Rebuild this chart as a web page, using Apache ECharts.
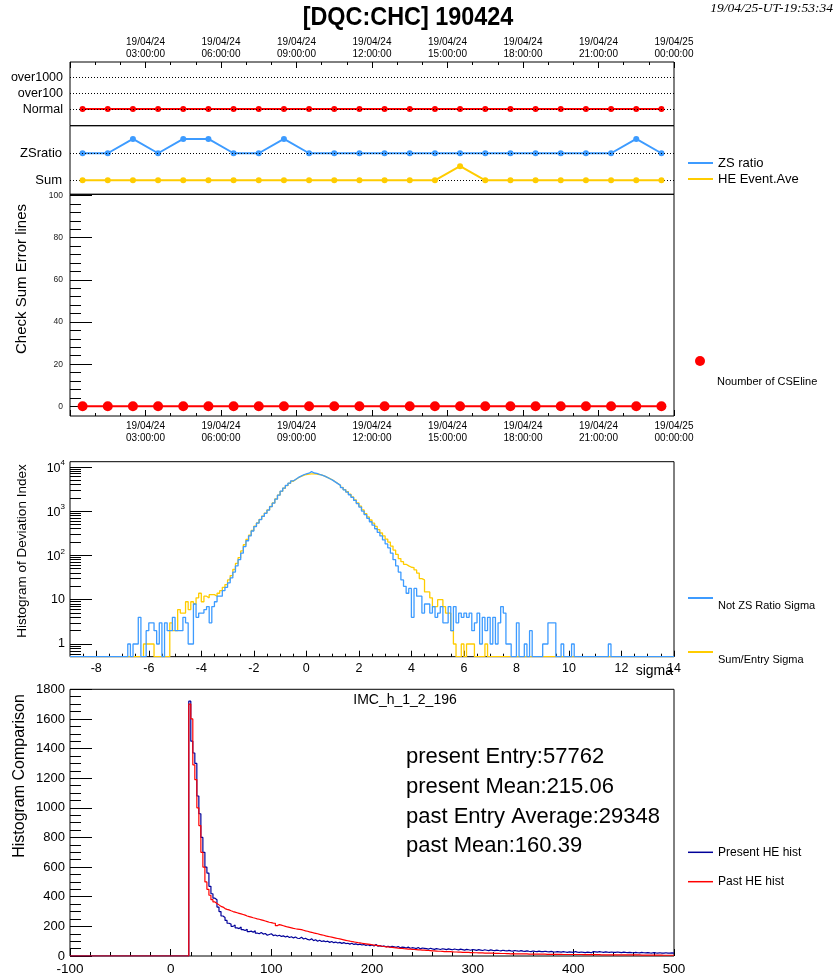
<!DOCTYPE html>
<html>
<head>
<meta charset="utf-8">
<script src="https://cdn.jsdelivr.net/npm/echarts@6/dist/echarts.min.js"></script>
<style>
  html, body { margin: 0; padding: 0; background: #fff; }
  #chart { width: 835px; height: 976px; }
</style>
</head>
<body>
<div id="chart"></div>
<script>
// ---------- hourly trend panels (run day 19/04/24) ----------
const timeHours = [0.5, 1.5, 2.5, 3.5, 4.5, 5.5, 6.5, 7.5, 8.5, 9.5, 10.5, 11.5,
                   12.5, 13.5, 14.5, 15.5, 16.5, 17.5, 18.5, 19.5, 20.5, 21.5, 22.5, 23.5];
const timeTickHours = [3, 6, 9, 12, 15, 18, 21, 24];
const timeTickLabels = ['19/04/24\n03:00:00', '19/04/24\n06:00:00', '19/04/24\n09:00:00',
                        '19/04/24\n12:00:00', '19/04/24\n15:00:00', '19/04/24\n18:00:00',
                        '19/04/24\n21:00:00', '19/04/25\n00:00:00'];

// status levels: 0 = Normal, 1 = over100, 2 = over1000
const statusNames = ['Normal', 'over100', 'over1000'];
const statusLevel = [0, 0, 0, 0, 0, 0, 0, 0, 0, 0, 0, 0, 0, 0, 0, 0, 0, 0, 0, 0, 0, 0, 0, 0];

// ratio panel: 0 = Sum baseline, 1 = ZSratio baseline
const ratioNames = ['Sum', 'ZSratio'];
const zsRatio = [1, 1, 1.53, 1, 1.53, 1.53, 1, 1, 1.53, 1, 1, 1, 1, 1, 1, 1, 1, 1, 1, 1, 1, 1, 1.53, 1];
const heEventAve = [0, 0, 0, 0, 0, 0, 0, 0, 0, 0, 0, 0, 0, 0, 0, 0.52, 0, 0, 0, 0, 0, 0, 0, 0];

// check sum error lines per hour
const cseLines = [0, 0, 0, 0, 0, 0, 0, 0, 0, 0, 0, 0, 0, 0, 0, 0, 0, 0, 0, 0, 0, 0, 0, 0];
const cseMajor = [0, 20, 40, 60, 80, 100];
const cseMinor = [4, 8, 12, 16, 24, 28, 32, 36, 44, 48, 52, 56, 64, 68, 72, 76, 84, 88, 92, 96];

// ---------- deviation index histograms: 0.1 sigma bins from -9 ----------
const devLow = -9;
const devWidth = 0.1;
const notZsSigma = [
  0,0,0,0,0,0,0,0,0,0,
  0,0,0,0,0,0,0,0,0,0,
  0,0,1,0,1,1,4,0,0,2,
  3,3,2,1,3,0,3,2,2,4,
  2,2,2,4,3,1,1,8,4,5,
  5,6,7,3,7,9,12,12,16,19,
  24,31,42,58,80,112,158,214,275,355,
  447,537,645,760,890,1050,1260,1510,1860,2290,
  2820,3310,3800,4270,4790,5250,5750,6170,6610,6920,
  7160,7760,7240,7080,6760,6460,6170,5750,5370,5010,
  4570,4170,3800,3390,3020,2690,2340,2040,1740,1480,
  1230,1000,830,690,575,480,400,330,275,224,
  182,148,112,80,58,42,28,20,14,18,
  4,18,12,12,5,8,8,5,7,4,
  5,7,3,3,7,2,7,3,5,4,
  5,4,5,2,3,5,1,4,2,4,
  1,4,1,3,7,5,1,1,0,0,
  3,0,0,1,0,2,0,0,0,0,
  1,1,3,3,3,0,0,1,0,0,
  0,1,0,0,0,0,0,0,0,0,
  0,0,0,0,0,1,0,0,0,0,
  0,0,0,0,0,0,0,0,0,0,
  0,0,0,0,0,0,0,0,0,0
];
const sumEntrySigma = [
  0,0,0,0,0,0,0,0,0,0,
  0,0,0,0,0,0,0,0,0,0,
  0,0,0,0,0,0,0,0,1,1,
  1,1,0,0,0,0,0,0,3,2,
  2,6,5,5,9,6,9,8,11,14,
  9,12,11,13,13,12,14,16,19,22,
  28,35,48,66,89,126,174,229,285,365,
  455,540,650,770,900,1060,1270,1530,1880,2300,
  2800,3280,3760,4230,4720,5180,5650,6050,6400,6700,
  6850,6950,6950,6880,6700,6450,6150,5780,5400,5030,
  4600,4200,3830,3430,3060,2730,2400,2090,1800,1540,
  1300,1060,880,740,630,535,450,380,320,275,
  234,200,162,132,105,85,72,63,58,54,
  53,47,40,30,28,15,15,11,7,7,
  10,10,7,5,5,2,1,0,0,1,
  0,1,1,1,0,0,0,0,1,0,
  0,0,0,0,0,0,0,0,0,0,
  0,0,0,0,0,0,0,0,0,0,
  0,0,0,0,0,0,0,0,0,0,
  0,0,0,0,0,0,0,0,0,0,
  0,0,0,0,0,0,0,0,0,0,
  0,0,0,0,0,0,0,0,0,0,
  0,0,0,0,0,0,0,0,0,0
];
const devMajorTicks = [-8, -6, -4, -2, 0, 2, 4, 6, 8, 10, 12, 14];
const devMinorTicks = [-8.5, -7.5, -7, -6.5, -5.5, -5, -4.5, -3.5, -3, -2.5, -1.5, -1, -0.5,
                       0.5, 1, 1.5, 2.5, 3, 3.5, 4.5, 5, 5.5, 6.5, 7, 7.5, 8.5, 9, 9.5,
                       10.5, 11, 11.5, 12.5, 13, 13.5];
const logMajor = [1, 10, 100, 1000, 10000];
const logMinor = [0.6, 0.7, 0.8, 0.9, 2, 3, 4, 5, 6, 7, 8, 9, 20, 30, 40, 50, 60, 70, 80, 90,
                  200, 300, 400, 500, 600, 700, 800, 900, 2000, 3000, 4000, 5000, 6000, 7000, 8000, 9000];
const devYMin = 0.517;
const devYMax = 13030;

// ---------- HE hit histograms: 2-unit bins from -100 ----------
const heLow = -100;
const heWidth = 2;
const presentHE = [
  0,0,0,0,0,0,0,0,0,0, 0,0,0,0,0,0,0,0,0,0, 0,0,0,0,0,0,0,0,0,0,
  0,0,0,0,0,0,0,0,0,0, 0,0,0,0,0,0,0,0,0,0, 0,0,0,0,0,0,0,0,0,
  1720,1450,1370,1300,1080,960,800,700,600,560,
  470,420,390,380,330,300,270,260,240,221,
  215,200,210,190,185,195,178,172,180,165,
  168,160,170,155,150,158,148,152,140,145,
  150,138,142,135,140,132,136,128,134,125,
  130,122,128,120,118,126,115,120,112,108,
  116,104,110,100,106,98,102,96,100,92,
  98,90,94,88,92,85,90,84,86,80,
  86,78,82,76,80,74,78,72,76,70,
  74,68,78,66,70,64,68,62,66,60,
  65,62,58,64,56,60,58,54,60,52,
  56,54,50,58,48,54,52,50,46,52,
  48,45,50,47,44,49,46,43,48,45,
  42,47,44,41,46,43,40,45,42,39,
  44,41,38,43,40,37,42,39,36,41,
  38,36,40,37,35,39,36,34,38,35,
  33,37,34,32,36,33,31,35,32,30,
  34,31,30,33,30,29,32,29,28,31,
  28,27,30,28,26,29,27,25,28,26,
  24,30,26,24,27,25,23,26,24,22,
  30,28,26,29,27,25,28,26,25,27,
  25,24,27,25,23,26,24,23,25,23,
  22,24,22,21,24,22,21,23,21,20,
  23,21,20,22,20,19,22,20,19,21,
  20
];
const pastHE = [
  0,0,0,0,0,0,0,0,0,0, 0,0,0,0,0,0,0,0,0,0, 0,0,0,0,0,0,0,0,0,0,
  0,0,0,0,0,0,0,0,0,0, 0,0,0,0,0,0,0,0,0,0, 0,0,0,0,0,0,0,0,0,
  1700,1600,1290,1190,1000,880,700,600,500,450,
  410,380,365,355,345,335,330,320,315,311,
  305,300,296,292,288,284,280,276,270,266,
  262,258,255,251,248,244,240,236,232,228,
  225,222,221,205,212,208,204,200,196,193,
  190,187,184,182,180,178,174,170,167,163,
  160,156,153,150,146,143,140,136,133,130,
  127,124,121,118,115,112,109,106,103,100,
  98,95,93,90,88,86,84,82,80,78,
  76,74,72,70,68,66,64,62,61,59,
  58,56,55,53,52,51,49,48,47,46,
  45,44,43,42,41,40,39,38,37,36,
  34,34,33,32,32,31,30,30,29,29,
  28,27,27,26,26,25,25,24,24,23,
  23,22,22,21,21,21,20,20,19,19,
  19,18,18,18,17,17,17,16,16,14,
  16,15,15,15,14,14,14,14,13,13,
  13,13,12,12,12,12,12,11,11,11,
  11,11,11,11,11,10,10,10,10,10,
  10,10,10,10,10,9,9,9,9,9,
  9,9,9,9,8,8,8,8,8,8,
  8,8,8,7,7,7,7,7,7,7,
  7,7,7,7,6,6,6,6,6,6,
  6,6,6,6,6,5,5,5,5,5,
  5
];
const heHistName = 'IMC_h_1_2_196';
const presentEntry = 57762;
const presentMean = 215.06;
const pastEntryAverage = 29348;
const pastMean = 160.39;

// ---------- helpers ----------
const FONT = 'Liberation Sans';

// histogram outline: one point per lower bin edge plus the closing edge
function histPoints(low, width, counts, floor) {
  const pts = counts.map((c, i) => [low + i * width, Math.max(c, floor)]);
  pts.push([low + counts.length * width, Math.max(counts[counts.length - 1], floor)]);
  return pts;
}
function pairs(xs, ys) { return xs.map((x, i) => [x, ys[i]]); }

const gridBase = { left: 70, width: 604, show: true, borderColor: '#000', borderWidth: 1,
                   containLabel: false, outerBoundsMode: 'none' };
const noLine = { show: false, onZero: false };
const noSplit = { show: false };
const plain = v => String(v);

const chart = echarts.init(document.getElementById('chart'), null, { renderer: 'canvas' });

const option = {
  animation: false,
  backgroundColor: '#fff',
  textStyle: { fontFamily: FONT, color: '#000' },
  grid: [
    Object.assign({ top: 62, height: 63.7 }, gridBase),
    Object.assign({ top: 125.7, height: 68.6 }, gridBase),
    Object.assign({ top: 194.3, height: 221.7 }, gridBase),
    Object.assign({ top: 461.7, height: 195 }, gridBase),
    Object.assign({ top: 689.3, height: 266.7 }, gridBase)
  ],
  xAxis: [
    { // 0: status panel, time labels on top
      gridIndex: 0, type: 'value', position: 'top', min: 0, max: 24, interval: 3,
      axisLine: noLine, splitLine: noSplit,
      axisTick: { show: true, inside: true, length: 6, lineStyle: { color: '#000' } },
      minorTick: { show: true, splitNumber: 3, length: 3, lineStyle: { color: '#000' } },
      axisLabel: { customValues: timeTickHours, fontSize: 10, lineHeight: 12, margin: 2, color: '#000',
                   formatter: v => timeTickLabels[timeTickHours.indexOf(v)] }
    },
    { // 1: ratio panel
      gridIndex: 1, type: 'value', min: 0, max: 24, interval: 3,
      axisLine: noLine, splitLine: noSplit, axisLabel: { show: false },
      axisTick: { show: false }
    },
    { // 2: check sum panel, time labels below
      gridIndex: 2, type: 'value', position: 'bottom', min: 0, max: 24, interval: 3,
      axisLine: noLine, splitLine: noSplit,
      axisTick: { show: true, inside: true, length: 6, lineStyle: { color: '#000' } },
      minorTick: { show: true, splitNumber: 3, length: 3, lineStyle: { color: '#000' } },
      axisLabel: { customValues: timeTickHours, fontSize: 10, lineHeight: 12, margin: 4, color: '#000',
                   formatter: v => timeTickLabels[timeTickHours.indexOf(v)] }
    },
    { // 3: sigma axis, major ticks + labels
      gridIndex: 3, type: 'value', position: 'bottom', min: -9, max: 14,
      axisLine: noLine, splitLine: noSplit,
      axisTick: { show: true, inside: true, length: 6, customValues: devMajorTicks, lineStyle: { color: '#000' } },
      axisLabel: { customValues: devMajorTicks, fontSize: 12.5, margin: 5, color: '#000', formatter: plain }
    },
    { // 4: sigma axis, minor ticks
      gridIndex: 3, type: 'value', position: 'bottom', offset: 0, min: -9, max: 14,
      axisLine: noLine, splitLine: noSplit, axisLabel: { show: false },
      axisTick: { show: true, inside: true, length: 3, customValues: devMinorTicks, lineStyle: { color: '#000' } }
    },
    { // 5: HE hit axis
      gridIndex: 4, type: 'value', position: 'bottom', min: -100, max: 500, interval: 100,
      axisLine: noLine, splitLine: noSplit,
      axisTick: { show: true, inside: true, length: 7, lineStyle: { color: '#000' } },
      minorTick: { show: true, splitNumber: 5, length: 4, lineStyle: { color: '#000' } },
      axisLabel: { fontSize: 13.5, margin: 6, color: '#000', formatter: plain }
    }
  ],
  yAxis: [
    { // 0: status levels
      gridIndex: 0, type: 'value', min: -1.06, max: 3,
      axisLine: noLine, splitLine: noSplit, axisTick: { show: false },
      axisLabel: { customValues: [0, 1, 2], fontSize: 12.5, margin: 7, color: '#000',
                   formatter: v => statusNames[v] }
    },
    { // 1: ratio levels
      gridIndex: 1, type: 'value', min: -0.52, max: 2.02,
      axisLine: noLine, splitLine: noSplit, axisTick: { show: false },
      axisLabel: { customValues: [0, 1], fontSize: 13, margin: 8, color: '#000',
                   formatter: v => ratioNames[v] }
    },
    { // 2: check sum, major
      gridIndex: 2, type: 'value', min: -4.6, max: 100.6,
      axisLine: noLine, splitLine: noSplit,
      axisTick: { show: true, inside: true, length: 22, customValues: cseMajor, lineStyle: { color: '#000' } },
      axisLabel: { customValues: cseMajor, fontSize: 8.5, margin: 7, color: '#222', formatter: plain }
    },
    { // 3: check sum, minor
      gridIndex: 2, type: 'value', position: 'left', offset: 0, min: -4.6, max: 100.6,
      axisLine: noLine, splitLine: noSplit, axisLabel: { show: false },
      axisTick: { show: true, inside: true, length: 11, customValues: cseMinor, lineStyle: { color: '#000' } }
    },
    { // 4: deviation, log major
      gridIndex: 3, type: 'log', logBase: 10, min: devYMin, max: devYMax,
      axisLine: noLine, splitLine: noSplit,
      axisTick: { show: true, inside: true, length: 22, customValues: logMajor, lineStyle: { color: '#000' } },
      axisLabel: {
        customValues: logMajor, margin: 5, color: '#000', fontSize: 12.5,
        formatter: v => {
          const e = Math.round(Math.log10(v));
          if (e === 0) return '1';
          if (e === 1) return '10';
          return '{b|10}{s|' + e + '}';
        },
        rich: {
          b: { fontSize: 12.5, fontFamily: FONT, color: '#000', verticalAlign: 'bottom', lineHeight: 16 },
          s: { fontSize: 8, fontFamily: FONT, color: '#000', verticalAlign: 'top' }
        }
      }
    },
    { // 5: deviation, log minor
      gridIndex: 3, type: 'log', logBase: 10, position: 'left', offset: 0, min: devYMin, max: devYMax,
      axisLine: noLine, splitLine: noSplit, axisLabel: { show: false },
      axisTick: { show: true, inside: true, length: 11, customValues: logMinor, lineStyle: { color: '#000' } }
    },
    { // 6: HE hit counts
      gridIndex: 4, type: 'value', min: 0, max: 1800, interval: 200,
      axisLine: noLine, splitLine: noSplit,
      axisTick: { show: true, inside: true, length: 22, lineStyle: { color: '#000' } },
      minorTick: { show: true, splitNumber: 4, length: 11, lineStyle: { color: '#000' } },
      axisLabel: { fontSize: 13, margin: 5, color: '#000', formatter: plain }
    }
  ],
  legend: [
    {
      data: ['ZS ratio', 'HE Event.Ave'], orient: 'vertical', left: 688, top: 156.5, padding: 0,
      icon: 'rect', itemWidth: 25, itemHeight: 2, itemGap: 3,
      textStyle: { fontSize: 13, lineHeight: 13, color: '#000', fontFamily: FONT }
    },
    { // marker sits above-left of its caption
      data: ['Noumber of CSEline'], orient: 'vertical', left: 695, top: 319, padding: 0,
      icon: 'circle', itemWidth: 10, itemHeight: 10,
      formatter: name => '\n' + name,
      textStyle: { fontSize: 11, lineHeight: 42, color: '#000', fontFamily: FONT, padding: [0, 0, 0, 7] }
    },
    { // captions sit just below their line keys
      data: ['Not ZS Ratio Sigma', 'Sum/Entry Sigma'], orient: 'vertical', left: 688, top: 582, padding: 0,
      icon: 'rect', itemWidth: 25, itemHeight: 2, itemGap: 22,
      formatter: name => '\n' + name,
      textStyle: { fontSize: 11, lineHeight: 16, color: '#000', fontFamily: FONT }
    },
    {
      data: ['Present HE hist', 'Past HE hist'], orient: 'vertical', left: 688, top: 845.3, padding: 0,
      icon: 'rect', itemWidth: 25, itemHeight: 1.5, itemGap: 15.4,
      textStyle: { fontSize: 12, lineHeight: 14, color: '#000', fontFamily: FONT }
    }
  ],
  series: [
    {
      name: 'Status', type: 'line', xAxisIndex: 0, yAxisIndex: 0,
      data: pairs(timeHours, statusLevel), color: '#ff0000',
      symbol: 'circle', symbolSize: 6, lineStyle: { width: 2, color: '#ff0000' },
      markLine: { silent: true, symbol: 'none', label: { show: false },
                  lineStyle: { type: [1, 2], color: '#000', width: 1 },
                  data: [0, 1, 2].map(v => ({ yAxis: v })) },
      z: 3
    },
    {
      name: 'ZS ratio', type: 'line', xAxisIndex: 1, yAxisIndex: 1,
      data: pairs(timeHours, zsRatio), color: '#3d9bff',
      symbol: 'circle', symbolSize: 6, lineStyle: { width: 2, color: '#3d9bff' },
      markLine: { silent: true, symbol: 'none', label: { show: false },
                  lineStyle: { type: [1, 2], color: '#000', width: 1 },
                  data: [0, 1].map(v => ({ yAxis: v })) },
      z: 3
    },
    {
      name: 'HE Event.Ave', type: 'line', xAxisIndex: 1, yAxisIndex: 1,
      data: pairs(timeHours, heEventAve), color: '#ffcc00',
      symbol: 'circle', symbolSize: 6, lineStyle: { width: 2, color: '#ffcc00' }, z: 5
    },
    {
      name: 'Noumber of CSEline', type: 'line', xAxisIndex: 2, yAxisIndex: 2,
      data: pairs(timeHours, cseLines), color: '#ff0000',
      symbol: 'circle', symbolSize: 10, lineStyle: { width: 2, color: '#ff0000' }, z: 3
    },
    {
      name: 'Sum/Entry Sigma', type: 'line', xAxisIndex: 3, yAxisIndex: 4, step: 'end',
      data: histPoints(devLow, devWidth, sumEntrySigma, devYMin), color: '#ffcc00',
      symbol: 'none', lineStyle: { width: 1.3, color: '#ffcc00' }, z: 2
    },
    {
      name: 'Not ZS Ratio Sigma', type: 'line', xAxisIndex: 3, yAxisIndex: 4, step: 'end',
      data: histPoints(devLow, devWidth, notZsSigma, devYMin), color: '#3d9bff',
      symbol: 'none', lineStyle: { width: 1.3, color: '#3d9bff' }, z: 3
    },
    {
      name: 'Present HE hist', type: 'line', xAxisIndex: 5, yAxisIndex: 6, step: 'end',
      data: histPoints(heLow, heWidth, presentHE, 0), color: '#000099',
      symbol: 'none', lineStyle: { width: 1.2, color: '#000099' }, z: 2
    },
    {
      name: 'Past HE hist', type: 'line', xAxisIndex: 5, yAxisIndex: 6, step: 'end',
      data: histPoints(heLow, heWidth, pastHE, 0), color: '#ff0000',
      symbol: 'none', lineStyle: { width: 1.2, color: '#ff0000' }, z: 3
    }
  ],
  graphic: [
    { // bold title, slightly condensed
      type: 'text', x: 408, y: 17.5, scaleX: 0.9,
      style: { text: '[DQC:CHC] 190424', font: 'bold 26px "Liberation Sans"',
               fill: '#000', align: 'center', verticalAlign: 'middle', textAlign: 'center', textVerticalAlign: 'middle' } },
    { type: 'text', x: 833, y: 8,
      style: { text: '19/04/25-UT-19:53:34', font: 'italic 13.5px "Liberation Serif"', fill: '#000',
               align: 'right', verticalAlign: 'middle', textAlign: 'right', textVerticalAlign: 'middle' } },
    { type: 'text', x: 22, y: 279, rotation: Math.PI / 2,
      style: { text: 'Check Sum Error lines', font: '15px "Liberation Sans"', fill: '#000',
               align: 'center', verticalAlign: 'middle', textAlign: 'center', textVerticalAlign: 'middle' } },
    { type: 'text', x: 22, y: 551, rotation: Math.PI / 2,
      style: { text: 'Histogram of Deviation Index', font: '13.5px "Liberation Sans"', fill: '#000',
               align: 'center', verticalAlign: 'middle', textAlign: 'center', textVerticalAlign: 'middle' } },
    { type: 'text', x: 20, y: 776, rotation: Math.PI / 2,
      style: { text: 'Histogram Comparison', font: '16px "Liberation Sans"', fill: '#000',
               align: 'center', verticalAlign: 'middle', textAlign: 'center', textVerticalAlign: 'middle' } },
    { type: 'text', x: 673, y: 671,
      style: { text: 'sigma', font: '14px "Liberation Sans"', fill: '#000',
               align: 'right', verticalAlign: 'middle', textAlign: 'right', textVerticalAlign: 'middle' } },
    { type: 'text', x: 405, y: 700,
      style: { text: heHistName, font: '14px "Liberation Sans"', fill: '#000',
               align: 'center', verticalAlign: 'middle', textAlign: 'center', textVerticalAlign: 'middle' } },
    { type: 'text', x: 406, y: 757,
      style: { text: 'present Entry:' + presentEntry, font: '22px "Liberation Sans"', fill: '#000',
               align: 'left', verticalAlign: 'middle', textAlign: 'left', textVerticalAlign: 'middle' } },
    { type: 'text', x: 406, y: 787,
      style: { text: 'present Mean:' + presentMean.toFixed(2), font: '22px "Liberation Sans"', fill: '#000',
               align: 'left', verticalAlign: 'middle', textAlign: 'left', textVerticalAlign: 'middle' } },
    { type: 'text', x: 406, y: 817,
      style: { text: 'past Entry Average:' + pastEntryAverage, font: '22px "Liberation Sans"', fill: '#000',
               align: 'left', verticalAlign: 'middle', textAlign: 'left', textVerticalAlign: 'middle' } },
    { type: 'text', x: 406, y: 846,
      style: { text: 'past Mean:' + pastMean.toFixed(2), font: '22px "Liberation Sans"', fill: '#000',
               align: 'left', verticalAlign: 'middle', textAlign: 'left', textVerticalAlign: 'middle' } }
  ]
};

chart.setOption(option);
</script>
</body>
</html>
